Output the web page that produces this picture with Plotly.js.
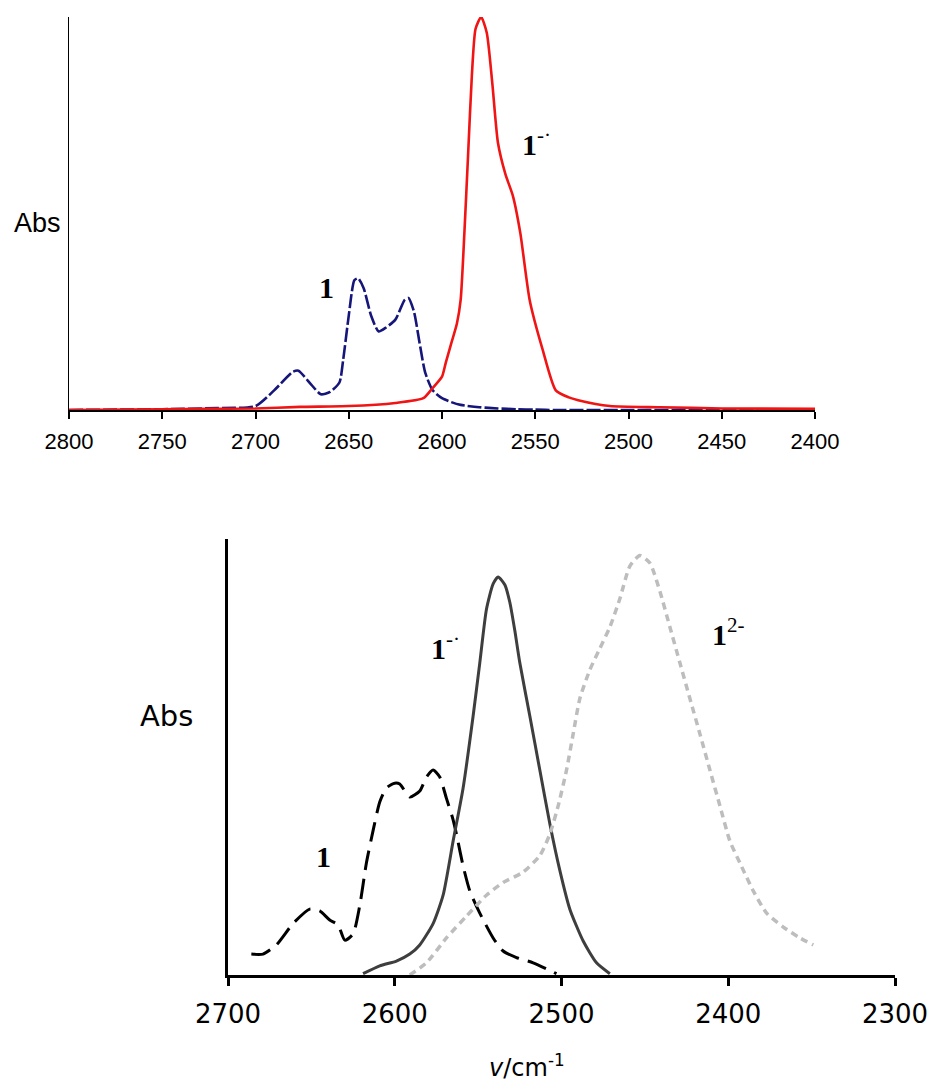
<!DOCTYPE html>
<html>
<head>
<meta charset="utf-8">
<script src="https://cdn.plot.ly/plotly-3.0.1.min.js"></script>
<style>html,body{margin:0;padding:0;background:#fff;}#chart{width:936px;height:1084px;}</style>
</head>
<body>
<div id="chart"></div>
<script>
// ---- Top panel data ----
const topNeutralX = [2800,2750,2720,2700,2690,2680,2677,2670,2665,2660,2655,2653,2650,2647,2645,2642,2638,2634,2630,2625,2620,2618,2615,2612,2609,2605,2600,2595,2590,2580,2570,2560,2550,2540,2500,2450,2400];
const topNeutralY = [0.000,0.002,0.005,0.010,0.050,0.097,0.100,0.064,0.040,0.046,0.070,0.127,0.240,0.330,0.335,0.310,0.240,0.200,0.210,0.230,0.280,0.285,0.250,0.170,0.095,0.050,0.030,0.020,0.013,0.007,0.004,0.002,0.001,0.000,0.000,0.000,0.000];
const topAnionX = [2800,2750,2700,2676,2650,2625,2610,2605,2600,2598,2595,2592,2590,2588,2586,2584,2582,2579,2576,2573,2570,2566,2562,2558,2553,2546,2539,2532,2527,2510,2483,2450,2400];
const topAnionY = [0.000,0.002,0.004,0.008,0.010,0.018,0.030,0.056,0.085,0.120,0.170,0.220,0.280,0.450,0.650,0.850,0.970,1.000,0.960,0.830,0.680,0.600,0.545,0.450,0.280,0.153,0.050,0.032,0.025,0.010,0.007,0.004,0.003];
const topTicks = [2800,2750,2700,2650,2600,2550,2500,2450,2400];

// ---- Bottom panel data ----
const botNeutralX = [2686,2679,2671,2661,2651,2645,2639,2634,2630,2625,2621,2617,2613,2609,2605,2600,2597,2591,2585,2581,2577,2573,2569,2565,2563,2559,2555,2549,2541,2535,2527,2517,2503];
const botNeutralY = [0.048,0.048,0.069,0.118,0.151,0.147,0.126,0.115,0.080,0.094,0.159,0.257,0.331,0.397,0.429,0.440,0.438,0.408,0.422,0.454,0.470,0.454,0.405,0.356,0.323,0.250,0.193,0.142,0.085,0.055,0.040,0.028,0.003];
const botAnionX = [2619,2609,2599,2591,2585,2577,2571,2565,2559,2553,2549,2545,2541,2538,2534,2531,2528,2525,2519,2513,2507,2501,2495,2487,2479,2471];
const botAnionY = [0.003,0.021,0.032,0.048,0.069,0.118,0.183,0.307,0.429,0.594,0.716,0.839,0.897,0.913,0.895,0.855,0.790,0.716,0.594,0.470,0.347,0.240,0.151,0.078,0.028,0.003];
const botDianionX = [2591,2581,2569,2557,2545,2535,2523,2513,2507,2502,2497,2493,2489,2483,2477,2471,2465,2459,2453,2447,2441,2435,2429,2423,2417,2411,2405,2399,2393,2385,2377,2367,2357,2349];
const botDianionY = [0.000,0.028,0.085,0.135,0.183,0.212,0.236,0.274,0.323,0.388,0.470,0.553,0.634,0.700,0.749,0.798,0.863,0.938,0.962,0.945,0.880,0.798,0.716,0.634,0.553,0.470,0.388,0.307,0.257,0.193,0.142,0.110,0.085,0.069];
const botTicks = [2700,2600,2500,2400,2300];

const W = 936, H = 1084;
const fx = p => p / W;
const fy = p => 1 - p / H;

const traces = [
  {x: topNeutralX, y: topNeutralY, xaxis: 'x', yaxis: 'y', mode: 'lines', line: {color: '#16167a', width: 2.6, dash: '14px,3px', shape: 'spline', smoothing: 0.6}},
  {x: topAnionX, y: topAnionY, xaxis: 'x', yaxis: 'y', mode: 'lines', line: {color: '#f01414', width: 2.6, shape: 'spline', smoothing: 0.6}},
  {x: botNeutralX, y: botNeutralY, xaxis: 'x2', yaxis: 'y2', mode: 'lines', line: {color: '#000000', width: 3, dash: '20px,9px', shape: 'spline', smoothing: 0.6}},
  {x: botAnionX, y: botAnionY, xaxis: 'x2', yaxis: 'y2', mode: 'lines', line: {color: '#3e3e3e', width: 3, shape: 'spline', smoothing: 0.6}},
  {x: botDianionX, y: botDianionY, xaxis: 'x2', yaxis: 'y2', mode: 'lines', line: {color: '#bdbdbd', width: 3.5, dash: '7px,5px', shape: 'spline', smoothing: 0.6}}
];

const lab = (x, y, text, size) => ({xref: 'paper', yref: 'paper', x: fx(x), y: fy(y), xanchor: 'center', yanchor: 'middle', showarrow: false, text: text, font: {family: 'Liberation Serif, Times New Roman, serif', size: size, color: '#000'}});

const layout = {
  width: W, height: H,
  margin: {l: 0, r: 0, t: 0, b: 0},
  paper_bgcolor: '#fff', plot_bgcolor: '#fff',
  showlegend: false,
  xaxis: {domain: [fx(69), fx(815)], range: [2800, 2400], anchor: 'y', tickvals: topTicks, ticktext: topTicks.map(String),
    showline: true, linecolor: '#000', linewidth: 2, ticks: 'outside', ticklen: 7, tickwidth: 2, tickcolor: '#000',
    ticklabelstandoff: 4,
    showgrid: false, zeroline: false, tickfont: {family: 'Liberation Sans, Arial, sans-serif', size: 22, color: '#000'}},
  yaxis: {domain: [fy(410), fy(17)], range: [0, 1], anchor: 'x', showline: true, linecolor: '#000', linewidth: 1.5,
    showticklabels: false, ticks: '', showgrid: false, zeroline: false},
  xaxis2: {domain: [fx(228), fx(895)], range: [2700, 2300], anchor: 'y2', tickvals: botTicks, ticktext: botTicks.map(String),
    showline: true, linecolor: '#000', linewidth: 3, ticks: 'outside', ticklen: 8, tickwidth: 3, tickcolor: '#000',
    ticklabelstandoff: 6,
    showgrid: false, zeroline: false, tickfont: {family: 'DejaVu Sans, sans-serif', size: 26, color: '#000'}},
  yaxis2: {domain: [fy(975), fy(539)], range: [0, 1], anchor: 'x2', showline: true, linecolor: '#000', linewidth: 3,
    showticklabels: false, ticks: '', showgrid: false, zeroline: false},
  annotations: [
    {xref: 'paper', yref: 'paper', x: fx(37), y: fy(223), xanchor: 'center', yanchor: 'middle', showarrow: false, text: 'Abs', font: {family: 'Liberation Sans, Arial, sans-serif', size: 27, color: '#000'}},
    {xref: 'paper', yref: 'paper', x: fx(166), y: fy(716), xanchor: 'center', yanchor: 'middle', showarrow: false, text: 'Abs', font: {family: 'DejaVu Sans, sans-serif', size: 29, color: '#000'}},
    {xref: 'paper', yref: 'paper', x: fx(527), y: fy(1066), xanchor: 'center', yanchor: 'middle', showarrow: false, text: '<i>v</i>/cm<sup>-1</sup>', font: {family: 'DejaVu Sans, sans-serif', size: 24, color: '#000'}},
    lab(326, 288, '<b>1</b>', 30),
    lab(536, 142, '<b>1</b><sup>-·</sup>', 30),
    lab(323, 856, '<b>1</b>', 30),
    lab(445, 646, '<b>1</b><sup>-·</sup>', 30),
    lab(728, 632, '<b>1</b><sup>2-</sup>', 30)
  ]
};

Plotly.newPlot('chart', traces, layout, {staticPlot: true, displayModeBar: false});
</script>
</body>
</html>
